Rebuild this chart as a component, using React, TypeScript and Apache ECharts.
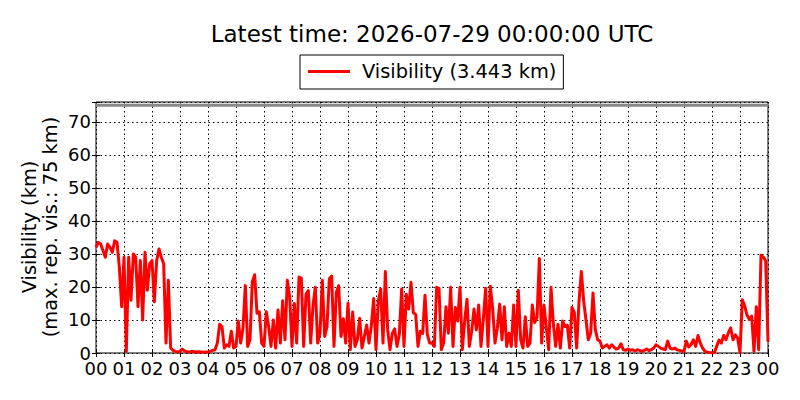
import React, { useEffect, useRef } from "react";
import * as echarts from "echarts";

// Visibility (km), one value every 5 minutes
const VIS_00_05 = [
  32, 33.5, 33, 31, 29, 33, 32, 30.5, 34, 33.5, 26, 14,
  29, 0.5, 29, 16, 30, 29, 14, 28, 10, 30.5, 19, 27,
  28, 15.5, 28, 31.5, 29, 27, 3, 22, 1.5, 0.8, 0.5, 0.3,
  0.5, 1.2, 0.6, 0.4, 0.3, 0.5, 0.4, 0.3, 0.4, 0.3, 0.2, 0.3,
  0.3, 0.5, 0.8, 1, 3, 8.7, 8, 1.5, 2.5, 2, 6.6, 1.5,
  2, 9.7, 3, 7.5, 20.4, 2, 4, 21.6, 23.7, 12, 12.5, 3,
];
const VIS_06_11 = [
  2, 12.5, 8, 2, 10, 1.5, 13, 3, 15.8, 4, 22, 17,
  2, 15, 3, 23, 22.7, 2, 17.8, 18.9, 3, 14.3, 19.9, 3,
  6, 22, 5, 8, 22.5, 23.3, 2, 18.4, 20.4, 5, 10.4, 3,
  15.1, 1, 12.4, 2, 4, 10.5, 1.5, 5, 8.5, 3, 8.2, 16.5,
  1, 15.8, 19.4, 3, 24.7, 7, 1, 5.9, 7.3, 2, 5.6, 19.4,
  2, 17.8, 13.3, 21.4, 12.2, 11.7, 2, 6.6, 5.9, 17.5, 5.6, 3,
];
const VIS_12_17 = [
  3, 2, 19.9, 19.5, 1, 3, 14, 6, 19.9, 2, 13.8, 9.7,
  19.9, 1, 9.7, 16.3, 2, 6.6, 13.3, 7, 14.5, 2, 10.4, 19.6,
  2, 20.2, 13.5, 3, 7.5, 14.8, 4, 14, 2, 6, 2, 14.5,
  2, 19, 4, 1.5, 11, 2, 3, 14.5, 9.2, 10.7, 28.6, 3,
  14.5, 7.6, 1, 19.9, 9, 2, 8.7, 1.5, 9.7, 8, 8.4, 1.5,
  13.8, 12.2, 1.5, 15.5, 24.7, 15.8, 10, 4, 6, 18.2, 7.1, 4,
];
const VIS_18_23 = [
  3.6, 1.5, 2, 2.5, 1.5, 2.5, 1.8, 1.2, 1.5, 2.8, 1, 0.8,
  1.2, 0.8, 1, 0.6, 1, 0.8, 0.5, 0.8, 1.2, 0.7, 1, 1.5,
  2.5, 2, 1.5, 1.2, 1, 3.6, 1.5, 1.2, 1.5, 1.0, 0.8, 0.6,
  0.5, 3.6, 1.8, 2.5, 4, 2, 5.3, 3, 1.5, 0.5, 0.2, 0.1,
  0.1, 0.1, 2, 3.9, 3, 5.3, 4, 6.1, 7.6, 4, 5.5, 4.5,
  0.2, 16.1, 14.3, 11.5, 10.2, 11.2, 0.5, 14, 1, 29.6, 29, 28,
];
const LATEST_VALUE = 3.443;
const MAX_REPORTED = 75;
const STEP_MINUTES = 5;
const TITLE = "Latest time: 2026-07-29 00:00:00 UTC";
const Y_LABEL_1 = "Visibility (km)";
const Y_LABEL_2 = "(max. rep. vis.: 75 km)";

const FONT = "DejaVu Sans";

export default function App() {
  const ref = useRef<HTMLDivElement>(null);
  useEffect(() => {
    if (!ref.current) return;
    const chart = echarts.init(ref.current, null, { renderer: "svg" });
    const values = [...VIS_00_05, ...VIS_06_11, ...VIS_12_17, ...VIS_18_23, LATEST_VALUE];
    const data = values.map((v, i) => [(i * STEP_MINUTES) / 60, v]);
    const seriesName = `Visibility (${LATEST_VALUE.toFixed(3)} km)`;
    const tick = { show: true, inside: true, length: 4, lineStyle: { color: "#000", width: 1 } };
    const split = { show: true, lineStyle: { color: "#000", width: 1, type: [1.5, 3] as any } };
    chart.setOption({
      animation: false,
      backgroundColor: "#fff",
      grid: { left: 96, right: 32, top: 102, bottom: 47, show: true, borderColor: "#000", borderWidth: 1, backgroundColor: "transparent" },
      legend: {
        data: [seriesName],
        left: 300,
        top: 55,
        padding: [7, 7, 8, 8],
        itemWidth: 42,
        itemHeight: 3,
        icon: "rect",
        borderColor: "#000",
        borderWidth: 1,
        borderRadius: 0,
        backgroundColor: "#fff",
        textStyle: { fontSize: 19.4, fontFamily: FONT, color: "#000", padding: [2, 0, 2, 7] },
      },
      xAxis: [
        {
          type: "value",
          min: 0,
          max: 24,
          interval: 1,
          axisLine: { show: false },
          axisTick: tick,
          splitLine: split,
          axisLabel: {
            fontSize: 18,
            fontFamily: FONT,
            color: "#000",
            margin: 6,
            formatter: (v: number) => String(Math.round(v) % 24).padStart(2, "0"),
          },
        },
        {
          type: "value",
          position: "top",
          min: 0,
          max: 24,
          interval: 1,
          axisLine: { show: false },
          axisTick: tick,
          splitLine: { show: false },
          axisLabel: { show: false },
        },
      ],
      yAxis: [
        {
          type: "value",
          min: 0,
          max: 76,
          interval: 10,
          axisLine: { show: false },
          axisTick: tick,
          splitLine: split,
          axisLabel: {
            fontSize: 18,
            fontFamily: FONT,
            color: "#000",
            margin: 5,
            formatter: (v: number) => (v % 10 === 0 ? String(v) : ""),
          },
        },
        {
          type: "value",
          position: "right",
          min: 0,
          max: 76,
          interval: 10,
          axisLine: { show: false },
          axisTick: tick,
          splitLine: { show: false },
          axisLabel: { show: false },
        },
      ],
      series: [
        {
          name: "maxrep",
          type: "line",
          data: [[0, MAX_REPORTED], [24, MAX_REPORTED]],
          showSymbol: false,
          silent: true,
          lineStyle: { color: "#888", width: 3 },
          itemStyle: { color: "#888" },
        },
        {
          name: seriesName,
          type: "line",
          data,
          showSymbol: false,
          lineStyle: { color: "#ff0000", width: 3, join: "round" },
          itemStyle: { color: "#ff0000" },
        },
      ],
      graphic: [
        {
          type: "text",
          x: 432,
          y: 34,
          style: { text: TITLE, font: `23px "${FONT}"`, fill: "#000", textAlign: "center", textVerticalAlign: "middle" },
        },
        {
          type: "text",
          x: 29,
          y: 227,
          rotation: Math.PI / 2,
          style: { text: Y_LABEL_1, font: `19.4px "${FONT}"`, fill: "#000", textAlign: "center", textVerticalAlign: "middle" },
        },
        {
          type: "text",
          x: 50,
          y: 227,
          rotation: Math.PI / 2,
          style: { text: Y_LABEL_2, font: `19.4px "${FONT}"`, fill: "#000", textAlign: "center", textVerticalAlign: "middle" },
        },
      ],
    });
    return () => chart.dispose();
  }, []);
  return (
    <div
      ref={ref}
      style={{ position: "fixed", left: 0, top: 0, width: 800, height: 400, background: "#fff" }}
    />
  );
}
